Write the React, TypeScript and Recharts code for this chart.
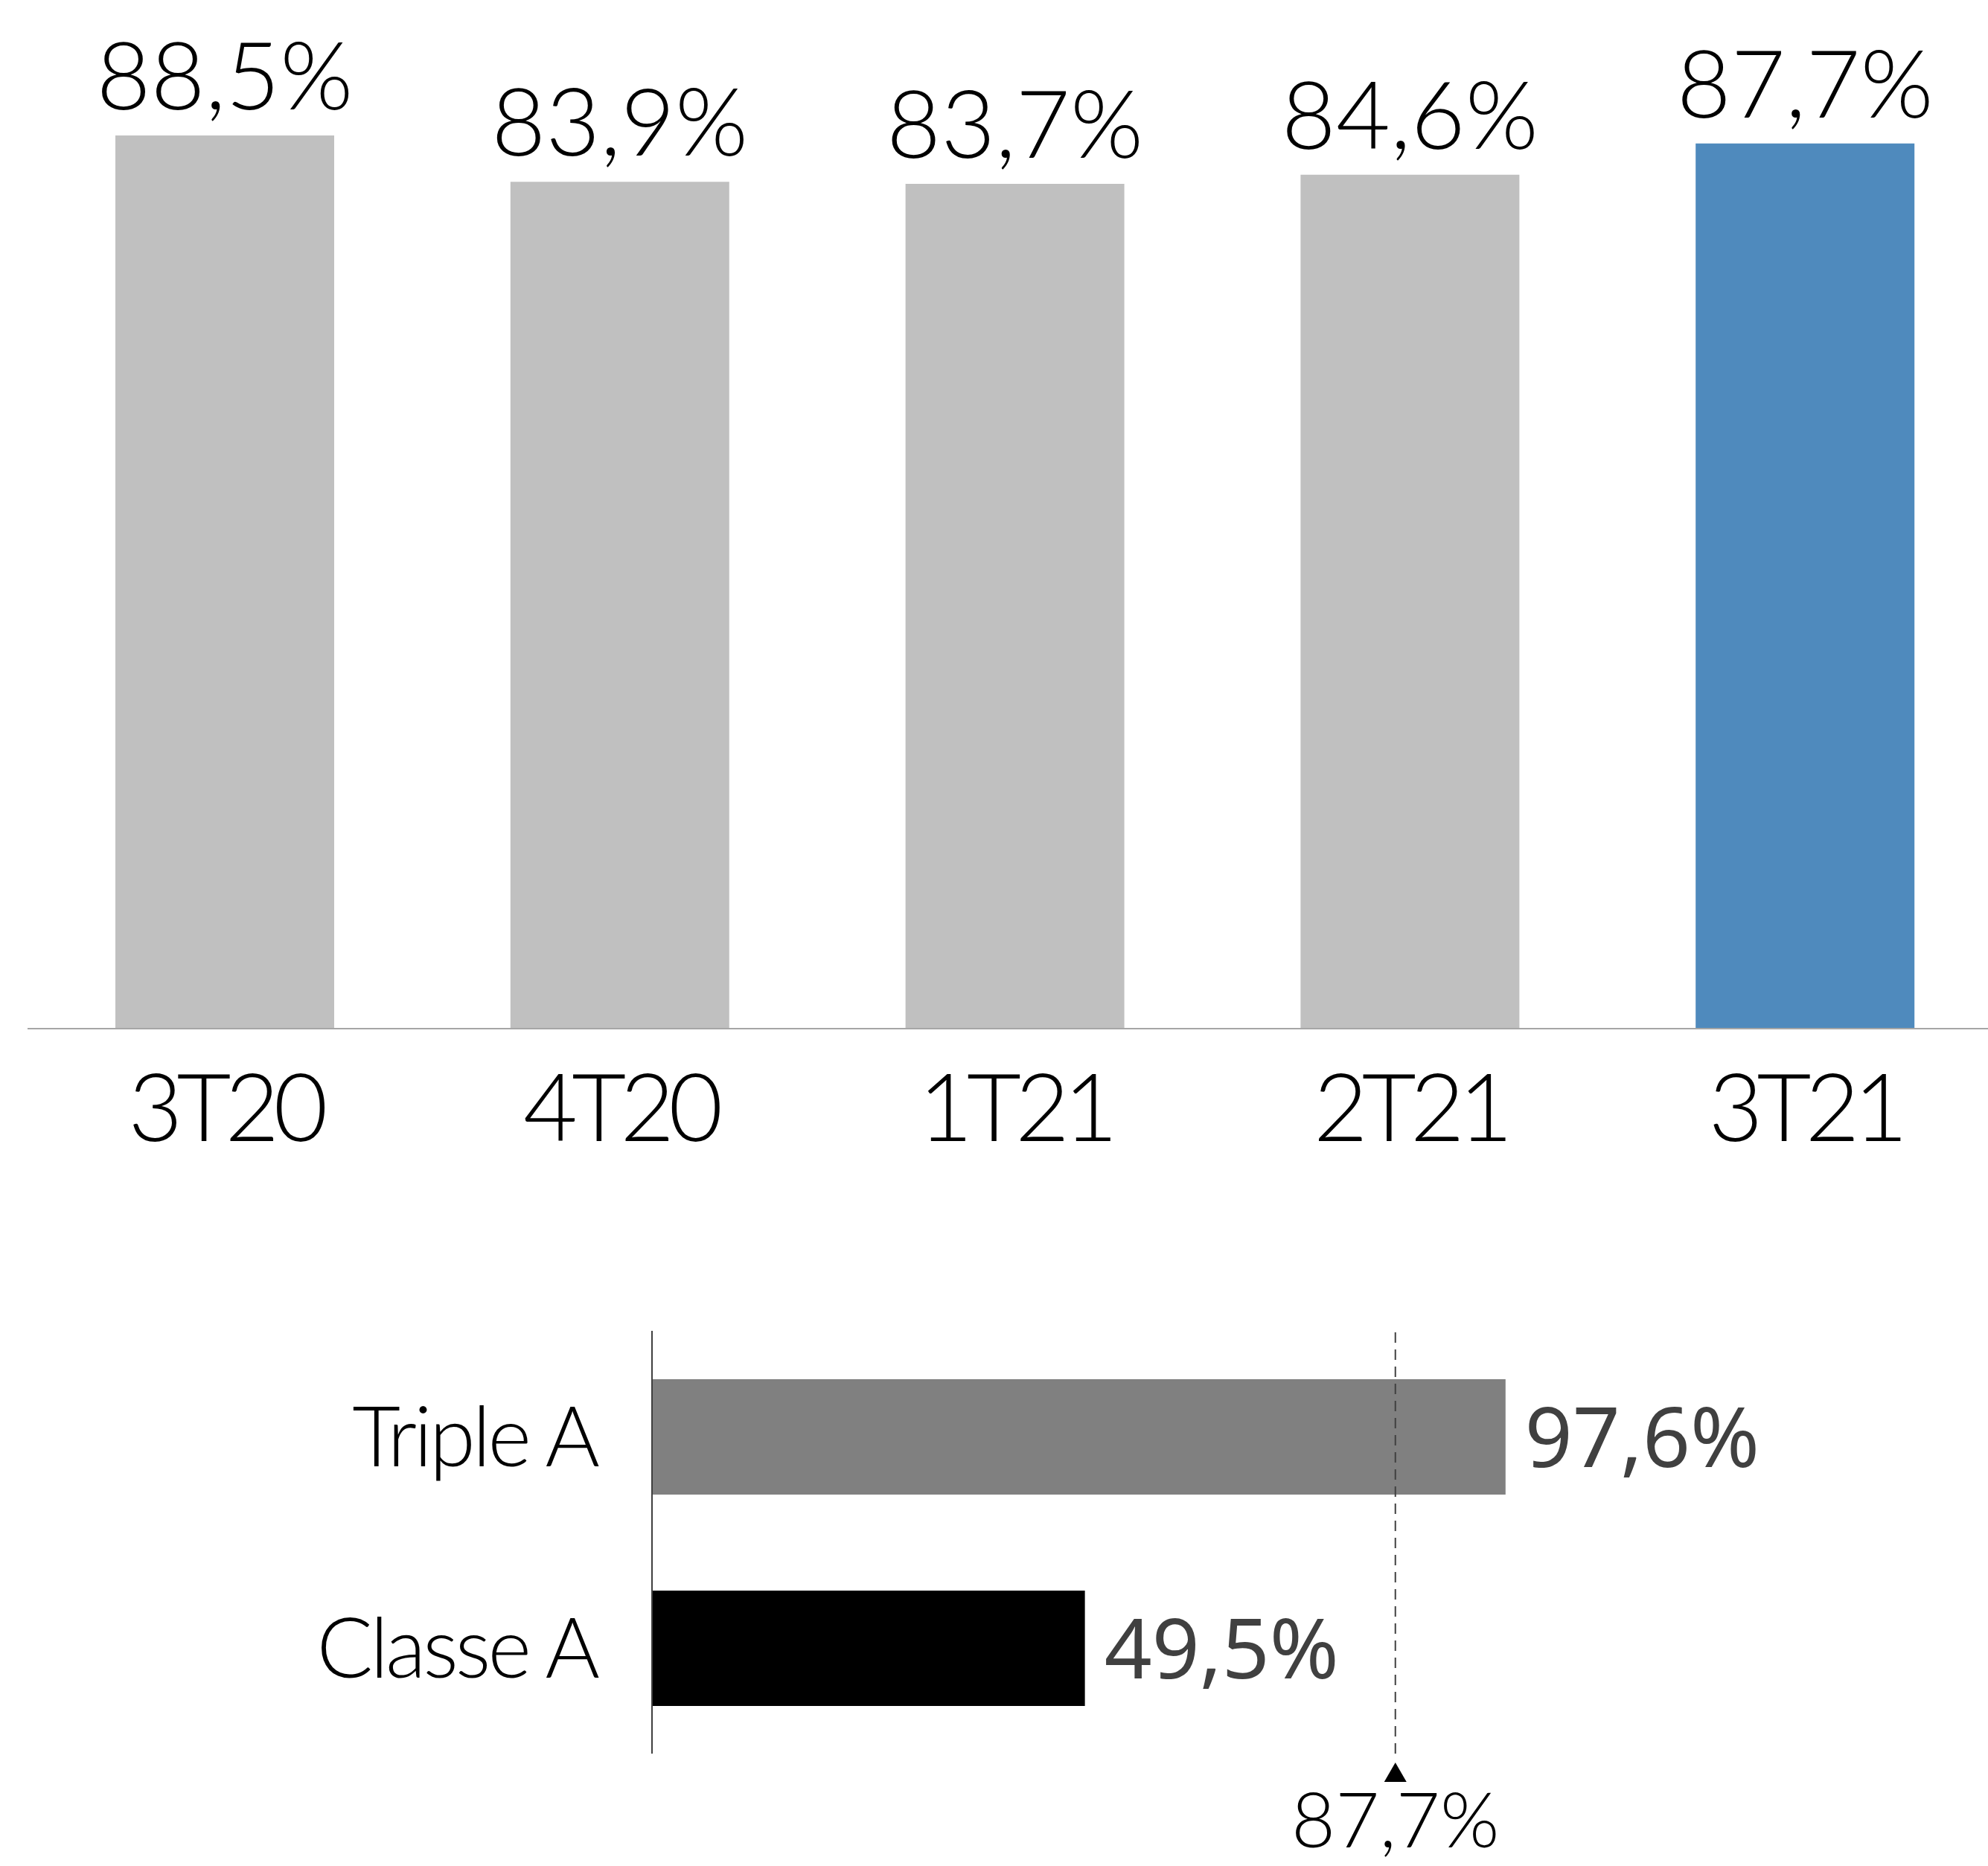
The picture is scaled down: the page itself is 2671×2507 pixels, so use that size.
import { BarChart, Bar, XAxis, YAxis, Cell, LabelList, ReferenceLine } from 'recharts';

const quarters = ['3T20', '4T20', '1T21', '2T21', '3T21'];
const occupancy = [88.5, 83.9, 83.7, 84.6, 87.7];
const quarterColors = ['#c0c0c0', '#c0c0c0', '#c0c0c0', '#c0c0c0', '#4f8abd'];

const classes = ['Triple A', 'Classe A'];
const classValues = [97.6, 49.5];
const classColors = ['#808080', '#000000'];

// the dashed marker sits at ~85 on the scale, labelled with the portfolio rate
const benchmarkPos = 85;
const benchmarkValue = 87.7;

const thinFont = 'Lato, "Open Sans", sans-serif';
const boldFont = '"Noto Sans", "Open Sans", sans-serif';

function pct(v: number): string {
  return v.toFixed(1).replace('.', ',') + '%';
}

const topData = quarters.map((q, i) => ({ name: q, value: occupancy[i] }));
const bottomData = classes.map((c, i) => ({ name: c, value: classValues[i] }));

function QuarterTick({ x, y, payload }: any) {
  return (
    <text
      x={x}
      y={y}
      dy={151}
      textAnchor="middle"
      fontFamily={thinFont}
      fontWeight={300}
      fontSize={126}
      letterSpacing={-8}
      fill="#000"
    >
      {payload.value}
    </text>
  );
}

function ClassTick({ x, y, payload }: any) {
  return (
    <text
      x={x - 66}
      y={y}
      dy={40}
      textAnchor="end"
      fontFamily={thinFont}
      fontWeight={300}
      fontSize={112}
      letterSpacing={-4}
      fill="#000"
    >
      {payload.value}
    </text>
  );
}

function TopLabel({ x, y, width, value }: any) {
  return (
    <text x={x + width / 2} y={y - 35} textAnchor="middle" fontFamily={thinFont} fontWeight={300} fontSize={126} fill="#000">
      {pct(Number(value))}
    </text>
  );
}

function SideLabel({ x, y, width, height, value }: any) {
  return (
    <text x={x + width + 26} y={y + height / 2} dy={40} textAnchor="start" fontFamily={boldFont} fontSize={112} fill="#404040">
      {pct(Number(value))}
    </text>
  );
}

function BenchLabel({ viewBox }: any) {
  const cx = viewBox.x;
  const bottom = viewBox.y + viewBox.height;
  return (
    <g>
      <polygon points={`${cx - 15},${bottom + 38} ${cx + 15},${bottom + 38} ${cx},${bottom + 12}`} fill="#000" />
      <text x={cx} y={bottom + 126} textAnchor="middle" fontFamily={thinFont} fontWeight={300} fontSize={102} fill="#000">
        {pct(benchmarkValue)}
      </text>
    </g>
  );
}

export default function App() {
  return (
    <div style={{ position: 'absolute', left: 0, top: 0, width: 2671, height: 2507, overflow: 'hidden', background: '#fff' }}>
      <div style={{ position: 'absolute', left: 0, top: 0 }}>
        <BarChart width={2691} height={1582} data={topData} margin={{ top: 26, right: 0, left: 37, bottom: 0 }} barCategoryGap={0}>
          <XAxis
            dataKey="name"
            height={200}
            tickLine={false}
            tickSize={0}
            tickMargin={0}
            axisLine={{ stroke: '#a6a6a6', strokeWidth: 2 }}
            tick={<QuarterTick />}
            interval={0}
          />
          <YAxis hide domain={[0, 100]} />
          <Bar dataKey="value" barSize={294} isAnimationActive={false}>
            {topData.map((d, i) => (
              <Cell key={d.name} fill={quarterColors[i]} />
            ))}
            <LabelList dataKey="value" content={<TopLabel />} />
          </Bar>
        </BarChart>
      </div>
      <div style={{ position: 'absolute', left: 0, top: 1700 }}>
        <BarChart
          layout="vertical"
          width={2671}
          height={807}
          data={bottomData}
          margin={{ top: 88, right: 620, left: 576, bottom: 151 }}
          barCategoryGap={0}
        >
          <XAxis type="number" hide domain={[0, 100]} />
          <YAxis
            type="category"
            dataKey="name"
            width={300}
            tickLine={false}
            axisLine={{ stroke: '#404040', strokeWidth: 2 }}
            tick={<ClassTick />}
            interval={0}
          />
          <Bar dataKey="value" barSize={155} isAnimationActive={false}>
            {bottomData.map((d, i) => (
              <Cell key={d.name} fill={classColors[i]} />
            ))}
            <LabelList dataKey="value" content={<SideLabel />} />
          </Bar>
          <ReferenceLine
            x={benchmarkPos}
            stroke="#404040"
            strokeWidth={2}
            strokeDasharray="14 9"
            label={<BenchLabel />}
          />
        </BarChart>
      </div>
    </div>
  );
}
